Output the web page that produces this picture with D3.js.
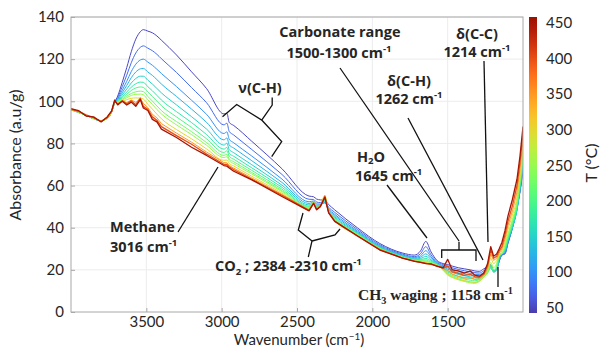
<!DOCTYPE html>
<html><head><meta charset="utf-8">
<script src="https://cdn.jsdelivr.net/npm/d3@7"></script>
<style>
body{margin:0;background:#fff;}
svg{display:block;}
text{font-family:Lato,"Open Sans",sans-serif;}
</style></head><body>
<svg id="c" width="604" height="348"></svg>
<script>
const wavenumbers = [4000,3950,3900,3850,3800,3760,3730,3710,3690,3660,3630,3600,3570,3540,3520,3490,3460,3430,3400,3300,3200,3100,2985,2965,2950,2920,2800,2600,2420,2390,2370,2345,2315,2290,2250,2100,1950,1800,1720,1680,1645,1610,1570,1530,1500,1470,1430,1390,1350,1320,1290,1260,1235,1214,1195,1175,1158,1140,1120,1100,1070,1040,1020,1000];
const temperatures = [50,75,100,125,150,175,200,225,250,300,350,400,450];
const absorbance = [
 [96,94.8,93.3,91.8,90.8,92,95,99.5, 102.5,109,116,123.5,129.5,133,134,133.3,132.5,131,129, 122,114,106,94,94.3,90,88.5,81,68, 55,54.7,53.6,53.2,53,51,48.5, 40,32.5,28,27,29,33.5,28.5,24.4, 23,22.5,21.8,21,20.5,20,19.5,19.3, 20.5,21.5,22.5,19.5,20.5,24,27,27.5,32.5,40,50,57,67],
 [96,94.8,93.3,91.8,90.8,92,95,99.5, 101.8,106.9,112.4,118.3,122.9,125.6,126.3,125.2,124,122.3,120.2, 113.7,106.5,99.3,88.8,89.6,85.7,84,77.1,65.3, 53.5,53.4,52.2,51.9,52.1,49.7,47.3, 39.2,31.9,27.5,26.3,27.7,31,27.1,23.9, 22.5,21.8,21,20.2,19.6,19.1,18.7,18.5, 19.6,20.8,22.2,19.4,20.3,24.2,27.2,27.8,32.8,40,49,57.5,68],
 [96,94.8,93.3,91.8,90.8,92,95,99.5, 101.2,105.2,109.5,114.1,117.6,119.6,120,118.6,117.1,115.2,113.2, 107,100.5,93.8,84.7,85.5,82,80.3,74,63.1, 52.3,52.7,51.3,51.2,51.8,48.9,46.4, 38.5,31.4,27.1,25.9,26.7,29.1,26.1,23.4, 21.9,21,20.2,19.4,18.8,18.3,17.9,17.8, 18.8,20.2,21.8,19.3,20.2,24.5,27.5,28,33,40,48.5,57.5,69],
 [96,94.8,93.3,91.8,90.8,92,95,99.5, 100.8,104,107.5,111.2,113.9,115.4,115.6,113.9,112.3,110.3,108.2, 102.3,96.3,90,81.7,82.6,79.3,77.8,71.8,61.5, 51.5,52.3,50.7,50.8,52,48.5,45.8, 38,31,26.8,25.5,26,27.6,25.3,23.1, 21.4,20.3,19.5,18.6,18,17.5,17.2,17.1, 18.2,19.8,21.5,19,20,25,27.5,28.5,33.5,40,48.5,58,70],
 [96,94.8,93.3,91.8,90.8,92,95,99.5, 100.4,103,105.8,108.7,110.8,111.9,111.9,110,108.2,106.1,104, 98.3,92.7,86.8,79.2,80.1,77.1,75.6,69.9,60.2, 50.8,52,50.2,50.6,52.3,48.1,45.2, 37.6,30.7,26.5,25.2,25.4,26.4,24.6,22.8, 21,19.6,18.8,17.8,17.2,16.7,16.4,16.5, 17.6,19.2,21,19,20,25.5,27.5,29,34,40.5,49,59,71],
 [96,94.8,93.3,91.8,90.8,92,95,99.5, 100.1,102.2,104.4,106.7,108.3,109.1,109,106.9,105,102.8,100.6, 95.1,89.9,84.2,77.3,78.1,75.3,73.9,68.4,59.2, 50.2,51.9,49.8,50.4,52.8,47.9,44.8, 37.3,30.5,26.3,24.9,24.9,25.4,24.1,22.6, 20.6,19,18.1,17,16.4,15.9,15.6,16, 17.2,18.8,21,19,20.5,26,27.5,29.5,34.5,41,49.5,60,72],
 [96,94.8,93.3,91.8,90.8,92,95,99.5, 99.9,101.6,103.3,105.1,106.3,106.8,106.6,104.4,102.3,100.1,97.9, 92.6,87.6,82.2,75.7,76.5,73.9,72.5,67.2,58.3, 49.8,52,49.6,50.5,53.3,47.8,44.4, 37,30.3,26.1,24.7,24.6,24.7,23.6,22.5, 20.3,18.4,17.4,16.3,15.6,15.1,14.8,15.4, 16.8,18.5,21.5,19.5,21,27,27.5,30,35,42,50.5,61,73],
 [96,94.8,93.3,91.8,90.8,92,95,99.5, 99.7,101,102.4,103.7,104.5,104.8,104.6,102.3,100.1,97.8,95.6, 90.4,85.6,80.4,74.3,74.9,72.6,71.3,66.2,57.6, 49.4,52,49.5,50.5,53.9,47.7,44.1, 36.8,30.1,26,24.5,24.3,24.2,23.3,22.3, 20,17.8,16.8,15.7,14.9,14.3,14,14.8, 16.5,18.5,22.5,20,22,27.5,27.5,31,36,43,51.5,62,74],
 [96,94.8,93.3,91.8,90.8,92,95,99.5, 99.6,100.6,101.7,102.8,103.3,103.4,103.1,100.7,98.5,96.1,94, 88.8,84.2,79.1,73.3,73.7,71.8,70.4,65.5,57.1, 49.1,52.1,49.4,50.6,54.6,47.7,43.9, 36.6,30,25.9,24.4,24.1,23.9,23.1,22.2, 19.8,17.5,16.4,15.3,14.5,13.8,13.6,14.5, 16.5,19,23.5,21,23,27,28,31.5,37,44,52.5,63,75],
 [96.1,95,93.4,92,90.6,92.2,95.2,99.8, 99.4,100,100.8,101.4,101.6,101.5,101.1,98.6,96.3,93.9,91.7, 86.6,82.2,77.4,72,72.1,70.5,69.3,64.4,56.4, 48.7,52.2,49.2,50.7,55.2,47.7,43.6, 36.4,29.8,25.8,24.3,23.8,23.5,22.9,22.1, 20.2,18,16.8,15.6,14.8,14.3,14.1,14.8, 17,20,25.5,23,24.5,27,29,33,39,46,54.5,65,77.5],
 [96.3,95.3,93.2,92.3,90.4,92.4,95.3,100.1, 98.8,100.1,99.4,100.6,99.5,101.2,99,97,93.8,92.2,89.4, 84.9,80.6,75.9,70.9,70.8,69.5,68.3,63.6,55.8, 48.4,52.1,49,50.6,55.4,47.6,43.3, 36.2,29.7,25.7,24.2,23.7,23.2,22.7,22, 20.5,19.8,17.9,16.9,16,16.3,15.5,15.7, 17.5,21,27.5,24.5,25.5,28,30,34.5,41,48,57,68,81],
 [96.2,95.2,93.6,92.2,90.5,92.3,95.3,100.2, 98.6,100.3,98.8,100.2,98.4,101.5,97.6,96.2,92.6,91,88, 83.7,79.6,75,70.1,70,68.9,67.6,63,55.4, 48.2,51.7,48.7,50.2,54.7,47.2,43.2, 36.1,29.6,25.6,24.1,23.6,23.1,22.6,21.9, 20.8,21.8,19,18.3,17.4,17.9,16.8,16.5, 18,22,29.5,25.5,26.5,29,31,36.5,43,50.5,60,71,85],
 [96.5,95.6,93,92.6,90.2,92.6,95.5,100.6, 98.3,100,98.2,99.6,97.6,100.8,96.8,95.6,91.4,90.2,86.8, 82.8,78.2,74.3,69.5,69.2,68.3,66.8,62.7,54.8, 48,51.5,48.5,50,54.5,47,43, 36.2,29.4,25.6,24,23.5,23,22.8,21.6, 21,25,20,19.5,18.5,19.5,17.5,17, 18.5,23,31,26.5,27.5,30,33,38.5,45.5,53.5,63,74,88]
];
const xTicks = [3500,3000,2500,2000,1500];
const yTicks = [0,20,40,60,80,100,120,140];
const cbTicks = [50,100,150,200,250,300,350,400,450];
const cbLimits = [42,458];

const svg = d3.select("#c");
const L=71,R=523,T=17,B=312;
const x = d3.scaleLinear().domain([4000,1000]).range([L,R]);
const y = d3.scaleLinear().domain([0,140]).range([B,T]);
const cb = d3.scaleLinear().domain(cbLimits).range([313,17]);
const col = v => d3.interpolateTurbo(0.06 + 0.89*(v-cbLimits[0])/(cbLimits[1]-cbLimits[0]));
const ink="#262626", axc="#a8a8a8";

// grid
const g = svg.append("g");
g.selectAll(".gx").data(xTicks).enter().append("line")
 .attr("x1",d=>x(d)).attr("x2",d=>x(d)).attr("y1",T).attr("y2",B).attr("stroke","#ececec");
g.selectAll(".gy").data(yTicks.slice(1)).enter().append("line")
 .attr("x1",L).attr("x2",R).attr("y1",d=>y(d)).attr("y2",d=>y(d)).attr("stroke","#ececec");

// curves
svg.append("clipPath").attr("id","cp").append("rect").attr("x",L).attr("y",T).attr("width",R-L).attr("height",B-T);
const cg = svg.append("g").attr("clip-path","url(#cp)");
temperatures.forEach((t,k)=>{
  const pts = wavenumbers.map((w,i)=>[w,absorbance[k][i]]);
  const line = d3.line().x(d=>x(d[0])).y(d=>y(d[1])).curve(t>=350?d3.curveLinear:d3.curveMonotoneX);
  cg.append("path").attr("d",line(pts)).attr("fill","none").attr("stroke",col(t))
    .attr("stroke-width",t>=400?1.3:1).attr("stroke-linejoin","round");
});

// axes (box)
const ax = svg.append("g");
ax.append("rect").attr("x",L).attr("y",T).attr("width",R-L).attr("height",B-T).attr("fill","none").attr("stroke",axc).attr("stroke-width",1);
const xa = d3.axisBottom(x).tickValues(xTicks).tickSize(-4).tickPadding(4).tickFormat(d3.format("d"));
const ya = d3.axisLeft(y).tickValues(yTicks).tickSize(-4).tickPadding(6).tickFormat(d3.format("d"));
const gx = ax.append("g").attr("transform",`translate(0,${B})`).call(xa);
const gy = ax.append("g").attr("transform",`translate(${L},0)`).call(ya);
[gx,gy].forEach(s=>{
  s.select(".domain").remove();
  s.selectAll(".tick line").attr("stroke",axc);
  s.selectAll(".tick text").attr("fill",ink).style("font-size","15px").style("font-family","Lato");
});
gy.selectAll(".tick text").attr("dx","-1");

function rich(parent,xp,yp,parts,size,weight,anchor,family,subShift){
  const t=parent.append("text").attr("x",xp).attr("y",yp).attr("fill",ink)
    .style("font-size",size+"px").style("font-weight",weight||"normal").attr("text-anchor",anchor||"start");
  if(family) t.style("font-family",family);
  let shift=0;
  parts.forEach(p=>{
    const [s,k]=Array.isArray(p)?p:[p,"n"];
    const ts=t.append("tspan").text(s);
    let target = k==="sup"?-size*0.38:(k==="sub"?size*(subShift||0.28):0);
    ts.attr("dy",target-shift); shift=target;
    if(k!=="n") ts.style("font-size",(size*0.66)+"px");
  });
  return t;
}
rich(svg,299,345.2,["Wavenumber (cm",["−1","sup"],")"],15,"normal","middle");
svg.append("text").attr("transform","translate(21,155) rotate(-90)").attr("text-anchor","middle")
 .attr("fill",ink).style("font-size","16px").text("Absorbance (a.u/g)");

// colorbar
const defs=svg.append("defs");
const lg=defs.append("linearGradient").attr("id","cbg").attr("x1",0).attr("y1",1).attr("x2",0).attr("y2",0);
d3.range(0,1.0001,0.05).forEach(f=>{
  lg.append("stop").attr("offset",f).attr("stop-color",col(cbLimits[0]+f*(cbLimits[1]-cbLimits[0])));
});
svg.append("rect").attr("x",529).attr("y",17).attr("width",8).attr("height",296).attr("fill","url(#cbg)");
svg.selectAll(".cbt").data(cbTicks).enter().append("text")
 .attr("x",546).attr("y",d=>cb(d)+5.5).attr("fill",ink).style("font-size","15px").text(d=>d);
svg.append("text").attr("transform","translate(597,163) rotate(-90)").attr("text-anchor","middle")
 .attr("fill",ink).style("font-size","16px").text("T (°C)");

// annotations
const an=svg.append("g");
const S=14.5, W="bold", F="Open Sans";
rich(an,110,232,["Methane"],S,W,"start",F);
rich(an,110,252,["3016 cm",["-1","sup"]],S,W,"start",F);
rich(an,260,93,["ν(C-H)"],S,W,"middle",F);
rich(an,340,37,["Carbonate range"],S,W,"middle",F);
rich(an,339,58,["1500-1300 cm",["-1","sup"]],S,W,"middle",F);
rich(an,409,86,["δ(C-H)"],S,W,"middle",F);
rich(an,409,104,["1262 cm",["-1","sup"]],S,W,"middle",F);
rich(an,477,39,["δ(C-C)"],S,W,"middle",F);
rich(an,477,57,["1214 cm",["-1","sup"]],S,W,"middle",F);
rich(an,357,161.5,["H",["2","sub"],"O"],S,W,"start",F,0.2);
rich(an,355,181,["1645 cm",["-1","sup"]],S,W,"start",F);
rich(an,215,271,["CO",["2","sub"]," ; 2384 -2310 cm",["-1","sup"]],S,W,"start",F);
rich(an,358,300,["CH",["3","sub"]," waging ; 1158 cm",["-1","sup"]],15.5,W,"start","Liberation Serif");

const lp = (d)=>an.append("path").attr("d",d).attr("fill","none").attr("stroke","#111").attr("stroke-width",1.3).attr("stroke-linejoin","miter");
lp("M178,232L218,167");
lp("M222.5,116.7L236.7,104.5L261.7,120L272.2,105L272.2,97.5M261.7,120L281.7,141.5L271.7,156.7");
lp("M303,213L298.3,230L312,241L308.3,257M312,241L335,235L340,229");
lp("M387,185L427,238");
lp("M340,68L459,241");
lp("M441.7,258L441.7,250L476,250L476,261M459,250L459,241.7");
lp("M408,118L483,260");
lp("M484,61L488,242");
lp("M498,267L498,287");
</script>
</body></html>
